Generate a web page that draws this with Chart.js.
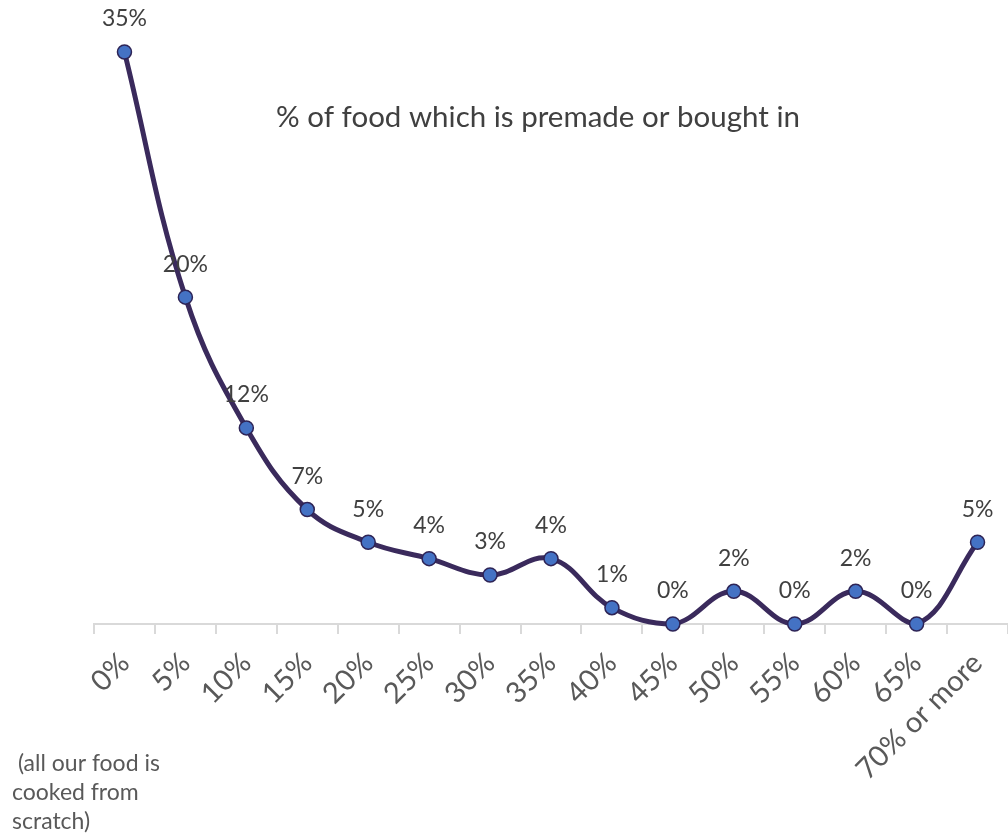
<!DOCTYPE html>
<html>
<head>
<meta charset="utf-8">
<title>% of food which is premade or bought in</title>
<script src="https://cdn.jsdelivr.net/npm/chart.js@4"></script>
<style>
  html, body { margin: 0; padding: 0; background: #ffffff; overflow: hidden; }
  #wrap { position: relative; width: 1008px; height: 834px; }
</style>
</head>
<body>
<div id="wrap"><canvas id="chart"></canvas></div>
<script>
// share of respondents by % of food premade / bought in
const categories = ['0%', '5%', '10%', '15%', '20%', '25%', '30%', '35%', '40%', '45%', '50%', '55%', '60%', '65%', '70% or more'];
const shares = [35, 20, 12, 7, 5, 4, 3, 4, 1, 0, 2, 0, 2, 0, 5];

const titleText = '% of food which is premade or bought in';
const noteLines = [' (all our food is', 'cooked from', 'scratch)'];

const FONT = 'Lato, "Open Sans", sans-serif';

// value labels over the points, plus the title and the note under the first category
const chartText = {
  id: 'chartText',
  afterDatasetsDraw(chart) {
    const ctx = chart.ctx;
    const meta = chart.getDatasetMeta(0);
    ctx.save();
    ctx.font = '23px ' + FONT;
    ctx.fillStyle = '#404040';
    ctx.textAlign = 'center';
    ctx.textBaseline = 'middle';
    meta.data.forEach((pt, i) => {
      ctx.fillText(shares[i] + '%', pt.x, pt.y - 33);
    });
    ctx.restore();
  },
  afterDraw(chart) {
    const ctx = chart.ctx;
    ctx.save();
    ctx.fillStyle = '#404040';
    ctx.font = '29.5px ' + FONT;
    ctx.textAlign = 'center';
    ctx.textBaseline = 'middle';
    ctx.fillText(titleText, 538, 117);

    ctx.fillStyle = '#595959';
    ctx.font = '23px ' + FONT;
    ctx.textAlign = 'left';
    noteLines.forEach((line, i) => {
      ctx.fillText(line, 12, 764 + i * 29);
    });
    ctx.restore();
  }
};

new Chart(document.getElementById('chart'), {
  type: 'line',
  data: {
    labels: categories,
    datasets: [{
      data: shares,
      borderColor: '#3a2a5c',
      borderWidth: 5,
      tension: 0.4,
      clip: false,
      pointRadius: 7,
      pointBackgroundColor: '#4472c4',
      pointBorderColor: '#2e2456',
      pointBorderWidth: 1.5
    }]
  },
  options: {
    responsive: true,
    maintainAspectRatio: false,
    animation: false,
    layout: {
      autoPadding: false,
      padding: { left: 94, right: 0, top: 52, bottom: 0 }
    },
    plugins: {
      legend: { display: false },
      tooltip: { enabled: false },
      title: { display: false }
    },
    scales: {
      x: {
        offset: true,
        afterFit(scale) {
          scale.height = 210;
          scale.paddingLeft = 0;
          scale.paddingRight = 0;
        },
        grid: {
          offset: true,
          drawOnChartArea: false,
          drawTicks: true,
          tickLength: 10,
          color: '#d9d9d9',
          lineWidth: 2
        },
        border: { color: '#d9d9d9', width: 2 },
        ticks: {
          autoSkip: false,
          minRotation: 45,
          maxRotation: 45,
          padding: 12,
          color: '#595959',
          font: { family: FONT, size: 29 }
        }
      },
      y: {
        display: false,
        min: 0,
        max: 35
      }
    }
  },
  plugins: [chartText]
});
</script>
</body>
</html>
